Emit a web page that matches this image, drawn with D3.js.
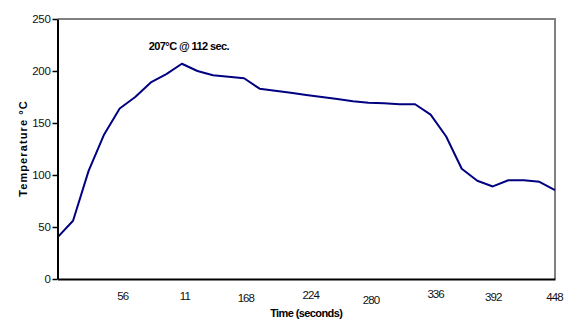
<!DOCTYPE html>
<html>
<head>
<meta charset="utf-8">
<script src="https://cdn.jsdelivr.net/npm/d3@7/dist/d3.min.js"></script>
<style>
  html, body { margin: 0; padding: 0; background: #fff; }
  svg { display: block; font-family: Arial, "Liberation Sans", sans-serif; }
</style>
</head>
<body>
<svg id="chart" width="569" height="320"></svg>
<script>
// Oven temperature profile, sampled every 14 seconds
const timeSec = [0, 14, 28, 42, 56, 70, 84, 98, 112, 126, 140, 154, 168, 182, 196, 210, 224,
                 238, 252, 266, 280, 294, 308, 322, 336, 350, 364, 378, 392, 406, 420, 434, 448];
const tempC   = [40, 56, 104, 139, 164, 175, 189, 197, 207, 200, 196, 194.5, 193, 183, 181, 179, 177,
                 175, 173, 171, 169.5, 169, 168, 168, 158, 137, 106, 94.5, 89, 95, 95, 93.5, 85.5];

const xTickValues = [56, 112, 168, 224, 280, 336, 392, 448];
const xTickLabels = ["56", "11", "168", "224", "280", "336", "392", "448"];
const yTickValues = [0, 50, 100, 150, 200, 250];

const peakTime = 112;
const peakTemp = 207;

// small per-label nudges of the time labels (dx, dy)
const xLabelNudge = [[2.5, 0], [2.5, 0], [1.3, 2.3], [4, -1], [2, 4], [4.5, -2], [0, 0.7], [-1, 0.7]];

const svg = d3.select("#chart");

const plot = { left: 57.5, right: 555, top: 19, bottom: 279 };

const x = d3.scaleLinear().domain([0, 448]).range([plot.left, plot.right]);
const y = d3.scaleLinear().domain([0, 250]).range([plot.bottom, plot.top]);

// frame: grey top and right border
svg.append("line")
  .attr("x1", plot.left).attr("x2", plot.right + 1)
  .attr("y1", plot.top).attr("y2", plot.top)
  .attr("stroke", "#808080").attr("stroke-width", 2);
svg.append("line")
  .attr("x1", plot.right).attr("x2", plot.right)
  .attr("y1", plot.top).attr("y2", plot.bottom)
  .attr("stroke", "#808080").attr("stroke-width", 2);

// temperature curve
const line = d3.line()
  .x((d, i) => x(timeSec[i]))
  .y(d => y(d));

svg.append("path")
  .datum(tempC)
  .attr("fill", "none")
  .attr("stroke", "#000080")
  .attr("stroke-width", 2)
  .attr("stroke-linejoin", "round")
  .attr("d", line);

// y axis
const yAxis = svg.append("g")
  .attr("transform", `translate(${plot.left},0)`)
  .call(d3.axisLeft(y).tickValues(yTickValues).tickSize(5).tickPadding(2).tickSizeOuter(0));
yAxis.select(".domain").attr("stroke", "#000").attr("stroke-width", 2);
yAxis.selectAll(".tick line").attr("stroke", "#000").attr("stroke-width", 1.5);
yAxis.selectAll(".tick text")
  .attr("font-size", 11.5)
  .attr("fill", "#111")
  .attr("font-family", "Arial, 'Liberation Sans', sans-serif")
  .attr("letter-spacing", -0.3);

// x axis
const xAxis = svg.append("g")
  .attr("transform", `translate(0,${plot.bottom})`)
  .call(d3.axisBottom(x).tickValues(xTickValues).tickSize(0).tickSizeOuter(0)
    .tickFormat((d, i) => xTickLabels[i]));
xAxis.select(".domain").attr("stroke", "#000").attr("stroke-width", 2);
xAxis.selectAll(".tick text")
  .attr("font-size", 11.5)
  .attr("fill", "#111")
  .attr("font-family", "Arial, 'Liberation Sans', sans-serif")
  .attr("letter-spacing", -0.9)
  .attr("dy", null)
  .attr("x", (d, i) => xLabelNudge[i][0])
  .attr("y", (d, i) => 21 + xLabelNudge[i][1]);

// axis titles
svg.append("text")
  .attr("x", (plot.left + plot.right) / 2)
  .attr("y", 317)
  .attr("text-anchor", "middle")
  .attr("font-size", 11)
  .attr("font-weight", "bold")
  .attr("letter-spacing", -0.6)
  .attr("fill", "#000")
  .text("Time (seconds)");

svg.append("text")
  .attr("transform", `translate(26.5,148.5) rotate(-90)`)
  .attr("text-anchor", "middle")
  .attr("font-size", 11)
  .attr("font-weight", "bold")
  .attr("letter-spacing", 1.1)
  .attr("fill", "#000")
  .text("Temperature °C");

// peak annotation
svg.append("text")
  .attr("x", x(peakTime) + 7)
  .attr("y", y(peakTemp) - 14)
  .attr("text-anchor", "middle")
  .attr("font-size", 11)
  .attr("font-weight", "bold")
  .attr("letter-spacing", -0.6)
  .attr("fill", "#000")
  .text(`${peakTemp}°C @ ${peakTime} sec.`);
</script>
</body>
</html>
